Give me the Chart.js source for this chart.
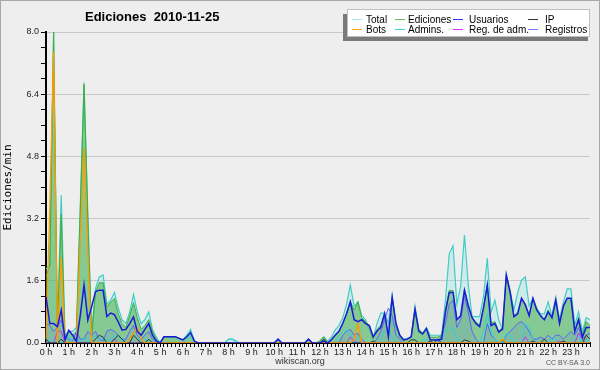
<!DOCTYPE html>
<html>
<head>
<meta charset="utf-8">
<script src="https://cdn.jsdelivr.net/npm/chart.js@4.4.1/dist/chart.umd.min.js"></script>
<style>
  html, body { margin: 0; padding: 0; background: #eeeeee; }
  canvas { display: block; }
</style>
</head>
<body>
<canvas id="myChart" width="600" height="370"></canvas>
<script>
// hour labels on the x axis, one slot every 10 minutes
var hourLabels = ['0 h', '1 h', '2 h', '3 h', '4 h', '5 h', '6 h', '7 h', '8 h', '9 h', '10 h', '11 h',
    '12 h', '13 h', '14 h', '15 h', '16 h', '17 h', '18 h', '19 h', '20 h', '21 h', '22 h', '23 h'];
var yTicks = [0, 1.6, 3.2, 4.8, 6.4, 8.0];

// values in edits per minute (12 slots = 2 hours per row)
var total = [
    1.9, 2.0, 8.0, 0.4, 3.8, 0.2, 0.3, 0.3, 0.4, 3.5, 6.7, 3.3,
    0.3, 1.4, 1.7, 1.75, 1.0, 1.1, 1.3, 0.9, 0.6, 0.5, 0.8, 1.25,
    0.8, 0.5, 0.6, 0.8, 0.35, 0.15, 0, 0.16, 0.16, 0.16, 0.16, 0.12,
    0.08, 0.2, 0.35, 0.05, 0, 0, 0, 0, 0, 0, 0, 0,
    0.1, 0.1, 0.05, 0, 0, 0, 0, 0, 0, 0, 0, 0,
    0, 0.1, 0, 0, 0, 0, 0, 0, 0, 0.1, 0, 0,
    0.05, 0.16, 0.05, 0.15, 0.33, 0.45, 0.65, 1.0, 1.49, 0.95, 1.06, 0.7,
    0.6, 0.35, 0.1, 0.5, 0.77, 0.77, 0.5, 1.19, 0.4, 0.16, 0.08, 0.12,
    0.16, 0.95, 0.35, 0.25, 0.4, 0.2, 0.2, 0.2, 0.2, 1.1, 2.3, 2.5,
    1.0, 1.45, 2.78, 1.5, 0.68, 0.68, 0.68, 1.2, 2.18, 0.8, 1.1, 0.6,
    0.35, 1.75, 1.35, 0.85, 1.3, 1.62, 1.7, 0.95, 1.15, 0.9, 0.75, 0.75,
    1.06, 0.7, 1.18, 0.6, 1.05, 1.39, 1.39, 0.45, 0.8, 0.3, 0.65, 0.6
];
var ediciones = [
    1.7, 2.0, 8.0, 0.25, 3.3, 0.1, 0.3, 0.2, 0.3, 3.4, 6.65, 3.2,
    0.15, 1.3, 1.55, 1.55, 0.93, 1.05, 1.15, 0.75, 0.5, 0.4, 0.7, 1.04,
    0.65, 0.35, 0.45, 0.6, 0.3, 0.1, 0, 0.16, 0.16, 0.16, 0.16, 0.12,
    0.08, 0.16, 0.27, 0.05, 0, 0, 0, 0, 0, 0, 0, 0,
    0, 0, 0, 0, 0, 0, 0, 0, 0, 0, 0, 0,
    0, 0.1, 0, 0, 0, 0, 0, 0, 0, 0.1, 0, 0,
    0.05, 0.16, 0, 0.08, 0.2, 0.3, 0.5, 0.75, 1.06, 0.85, 1.06, 0.65,
    0.55, 0.45, 0.16, 0.35, 0.45, 0.76, 0.2, 1.18, 0.5, 0.2, 0.1, 0.1,
    0.16, 0.9, 0.35, 0.25, 0.38, 0.15, 0.15, 0.15, 0.2, 0.85, 1.35, 1.35,
    0.6, 0.7, 1.38, 1.0, 0.65, 0.55, 0.45, 0.9, 1.49, 0.5, 0.55, 0.3,
    0.4, 1.75, 1.35, 0.7, 0.8, 1.15, 1.0, 0.72, 1.15, 0.85, 0.72, 0.6,
    0.85, 0.65, 1.1, 0.5, 0.95, 1.15, 1.15, 0.3, 0.65, 0.2, 0.55, 0.45
];
var usuarios = [
    1.19, 0.5, 0.5, 0.42, 0.85, 0.08, 0.33, 0.2, 0.04, 0.7, 1.49, 0.59,
    0.93, 1.32, 1.36, 1.36, 0.68, 0.77, 0.73, 0.54, 0.33, 0.35, 0.5, 0.67,
    0.3, 0.2, 0.35, 0.5, 0.2, 0.05, 0, 0.16, 0.16, 0.16, 0.16, 0.12,
    0.08, 0.16, 0.27, 0.05, 0, 0, 0, 0, 0, 0, 0, 0,
    0, 0, 0, 0, 0, 0, 0, 0, 0, 0, 0, 0,
    0, 0.1, 0, 0, 0, 0, 0, 0, 0, 0.1, 0, 0,
    0, 0.05, 0, 0.08, 0.2, 0.3, 0.5, 0.75, 1.06, 0.6, 0.55, 0.6,
    0.5, 0.45, 0.16, 0.3, 0.4, 0.76, 0.16, 1.18, 0.5, 0.2, 0.08, 0.1,
    0.16, 0.86, 0.3, 0.23, 0.37, 0.08, 0.08, 0.08, 0.1, 0.8, 1.3, 1.3,
    0.6, 0.7, 1.36, 0.95, 0.65, 0.5, 0.42, 0.9, 1.49, 0.45, 0.5, 0.28,
    0.36, 1.75, 1.3, 0.68, 0.75, 1.15, 0.98, 0.7, 1.15, 0.85, 0.7, 0.6,
    0.8, 0.65, 1.1, 0.5, 0.95, 1.15, 1.15, 0.3, 0.6, 0.15, 0.4, 0.4
];
var ip = [
    0.1, 0, 0, 0, 0.1, 0, 0, 0, 0, 0, 0, 0,
    0, 0.1, 0.2, 0.15, 0, 0, 0.1, 0.2, 0.1, 0, 0, 0.2,
    0.1, 0, 0, 0.1, 0, 0, 0, 0, 0, 0, 0, 0,
    0, 0, 0, 0, 0, 0, 0, 0, 0, 0, 0, 0,
    0, 0, 0, 0, 0, 0, 0, 0, 0, 0, 0, 0,
    0, 0, 0, 0, 0, 0, 0, 0, 0, 0, 0, 0,
    0, 0.1, 0, 0, 0, 0, 0, 0, 0, 0, 0, 0,
    0, 0, 0.05, 0, 0, 0, 0, 0, 0, 0, 0, 0,
    0.08, 0.08, 0, 0, 0, 0.05, 0, 0.1, 0, 0, 0, 0,
    0, 0, 0.08, 0.05, 0, 0, 0, 0, 0, 0, 0, 0,
    0.08, 0, 0, 0, 0, 0, 0, 0, 0.05, 0, 0, 0.1,
    0, 0, 0, 0, 0.05, 0, 0, 0, 0, 0, 0.2, 0.1
];
var bots = [
    0.1, 3.5, 7.5, 0, 2.2, 0, 0, 0, 0, 2.6, 5.0, 2.3,
    0, 0, 0, 0, 0, 0, 0, 0, 0, 0, 0.1, 0.25,
    0.4, 0.1, 0, 0, 0, 0, 0, 0, 0, 0, 0, 0,
    0, 0, 0, 0, 0, 0, 0, 0, 0, 0, 0, 0,
    0, 0, 0, 0, 0, 0, 0, 0, 0, 0, 0, 0,
    0, 0, 0, 0, 0, 0, 0, 0, 0, 0, 0, 0,
    0, 0, 0, 0, 0, 0, 0, 0, 0, 0.1, 0.5, 0,
    0, 0, 0, 0, 0, 0, 0, 0, 0, 0, 0, 0,
    0, 0, 0, 0, 0, 0, 0, 0, 0, 0, 0, 0,
    0, 0, 0, 0, 0, 0, 0, 0, 0, 0, 0, 0,
    0.1, 0, 0, 0, 0, 0, 0, 0, 0, 0, 0, 0,
    0, 0, 0, 0, 0, 0, 0, 0, 0, 0, 0, 0
];
var admins = [
    0.1, 0.05, 0, 0.1, 0, 0.05, 0.2, 0, 0.1, 0.05, 0.15, 0,
    0.1, 0.2, 0.1, 0.15, 0.1, 0.05, 0.2, 0.15, 0.1, 0.05, 0.1, 0.2,
    0.1, 0.05, 0.1, 0.05, 0, 0, 0, 0, 0, 0, 0, 0,
    0, 0.1, 0.2, 0, 0, 0, 0, 0, 0, 0, 0, 0,
    0.1, 0.1, 0, 0, 0, 0, 0, 0, 0, 0, 0, 0,
    0, 0, 0, 0, 0, 0, 0, 0, 0, 0, 0, 0,
    0, 0, 0, 0, 0, 0.2, 0.3, 0.35, 0.2, 0, 0, 0,
    0, 0, 0, 0, 0.1, 0.3, 0.35, 0.15, 0, 0, 0, 0,
    0, 0, 0, 0.05, 0.1, 0, 0, 0, 0.1, 0.3, 0.4, 0.35,
    0.1, 0, 0, 0, 0, 0, 0, 0.3, 0.75, 0.3, 0.1, 0,
    0, 0.25, 0.2, 0, 0, 0, 0.5, 0.4, 0.1, 0, 0, 0,
    0, 0.15, 0.1, 0, 0, 0, 0, 0.1, 0.2, 0, 0.1, 0
];
var regAdm = [
    0, 0, 0, 0.3, 0.3, 0, 0, 0, 0, 0, 0, 0,
    0, 0, 0, 0, 0, 0, 0.1, 0, 0, 0, 0, 0,
    0, 0, 0, 0, 0, 0, 0, 0, 0, 0, 0, 0,
    0, 0, 0, 0, 0, 0, 0, 0, 0, 0, 0, 0,
    0, 0, 0, 0, 0, 0, 0, 0, 0, 0, 0, 0,
    0, 0, 0, 0, 0, 0, 0, 0, 0, 0, 0, 0,
    0, 0, 0, 0, 0, 0, 0, 0, 0.16, 0.05, 0, 0,
    0, 0, 0, 0, 0, 0, 0, 0, 0, 0, 0, 0,
    0, 0, 0, 0, 0, 0, 0, 0, 0, 0, 0, 0,
    0, 0, 0, 0, 0, 0, 0, 0, 0, 0, 0, 0,
    0.1, 0, 0, 0, 0, 0, 0.16, 0, 0, 0, 0, 0,
    0, 0, 0, 0.05, 0, 0, 0, 0, 0.25, 0.1, 0, 0
];
var registros = [
    0.5, 0.45, 0.3, 0.4, 0.6, 0.2, 0.1, 0.05, 0.3, 0.1, 0.1, 0.3,
    0.2, 0.3, 0.1, 0.05, 0.3, 0.35, 0.3, 0.2, 0.1, 0.1, 0.3, 0.45,
    0.2, 0.1, 0.2, 0.3, 0.1, 0, 0, 0, 0, 0, 0, 0,
    0, 0, 0, 0, 0, 0, 0, 0, 0, 0, 0, 0,
    0, 0, 0, 0, 0, 0, 0, 0, 0, 0, 0, 0,
    0, 0, 0, 0, 0, 0, 0, 0, 0, 0, 0, 0,
    0, 0, 0, 0, 0, 0, 0.2, 0.3, 0.35, 0.2, 0.25, 0.1,
    0, 0, 0, 0.1, 0.3, 0.6, 0.9, 0.7, 0.2, 0.1, 0, 0,
    0, 0, 0, 0, 0, 0, 0, 0, 0.2, 0.5, 1.0, 1.1,
    0.4, 0.6, 1.2, 0.8, 0.3, 0.1, 0, 0, 0.5, 0.2, 0.1, 0,
    0, 0.2, 0.3, 0.4, 0.5, 0.55, 0.45, 0.3, 0.1, 0.1, 0.15, 0.1,
    0.2, 0.1, 0.2, 0.2, 0.1, 0.2, 0.3, 0.2, 0.4, 0.1, 0.2, 0.25
];

// one category per 10 minutes
var slots = [];
for (var h = 0; h < 24; h++) {
    for (var m = 0; m < 60; m += 10) {
        slots.push(h + ':' + (m < 10 ? '0' + m : m));
    }
}

function isMajor(v) {
    return yTicks.some(function (t) { return Math.abs(t - v) < 1e-6; });
}

// legend order as in the picture (two rows of four)
var legendOrder = ['Total', 'Ediciones', 'Usuarios', 'IP', 'Bots', 'Admins.', 'Reg. de adm.', 'Registros'];
var legendColors = {
    'Total': '#a6e8e8', 'Ediciones': '#66c466', 'Usuarios': '#3333ff', 'IP': '#333333',
    'Bots': '#ffa020', 'Admins.': '#33d4e4', 'Reg. de adm.': '#dd33ff', 'Registros': '#7777ff'
};

var decor = {
    id: 'decor',
    beforeDraw: function (chart) {
        var c = chart.ctx;
        c.save();
        c.fillStyle = '#eeeeee';
        c.fillRect(0, 0, chart.width, chart.height);
        c.strokeStyle = '#a8a8a8';
        c.lineWidth = 1;
        c.strokeRect(0.5, 0.5, chart.width - 1, chart.height - 1);
        c.restore();
    },
    afterDraw: function (chart) {
        var c = chart.ctx;
        c.save();
        // title
        c.fillStyle = '#000';
        c.font = 'bold 13px "Liberation Sans"';
        c.textBaseline = 'middle';
        c.textAlign = 'left';
        c.fillText('Ediciones  2010-11-25', 85, 17);

        // legend box with shadow
        c.fillStyle = '#7a7a7a';
        c.fillRect(343, 14, 245, 27);
        c.fillStyle = '#ffffff';
        c.fillRect(347, 9, 243, 28);
        c.strokeStyle = '#c0c0c0';
        c.strokeRect(347.5, 9.5, 242, 27);
        var lineX = [352, 395, 453, 528];
        var textX = [366, 408, 469, 545];
        var rowY = [19, 29];
        c.font = '10px "Liberation Sans"';
        c.lineWidth = 1;
        legendOrder.forEach(function (name, k) {
            var col = k % 4, row = Math.floor(k / 4);
            c.strokeStyle = legendColors[name];
            c.beginPath();
            c.moveTo(lineX[col], rowY[row] + 0.5);
            c.lineTo(lineX[col] + 10, rowY[row] + 0.5);
            c.stroke();
            c.fillStyle = '#000';
            c.fillText(name, textX[col], rowY[row] + 1);
        });

        // footer
        c.fillStyle = '#333';
        c.font = '9px "Liberation Sans"';
        c.textAlign = 'center';
        c.fillText('wikiscan.org', 300, 362);
        c.textAlign = 'right';
        c.font = '7px "Liberation Sans"';
        c.fillStyle = '#555';
        c.fillText('CC BY-SA 3.0', 590, 363);
        c.restore();
    }
};

var ctx = document.getElementById('myChart');
var myChart = new Chart(ctx, {
    type: 'line',
    data: {
        labels: slots,
        datasets: [
            {label: 'Usuarios', data: usuarios, borderColor: '#1a1ad8', borderWidth: 1.5, fill: false},
            {label: 'Bots', data: bots, borderColor: '#ff9a00', borderWidth: 1.3, fill: false},
            {label: 'IP', data: ip, borderColor: '#333333', fill: false},
            {label: 'Reg. de adm.', data: regAdm, borderColor: '#d030f0', fill: false},
            {label: 'Admins.', data: admins, borderColor: '#30d0e0', fill: false},
            {label: 'Registros', data: registros, borderColor: '#6060ff', fill: 'origin',
                backgroundColor: 'rgba(90,90,255,0.12)'},
            {label: 'Ediciones', data: ediciones, borderColor: '#3fae3f', fill: 'origin',
                backgroundColor: 'rgba(60,170,60,0.5)'},
            {label: 'Total', data: total, borderColor: '#40cdc4', borderWidth: 1.2, fill: 'origin',
                backgroundColor: 'rgba(150,225,225,0.35)'}
        ]
    },
    options: {
        responsive: false,
        animation: false,
        devicePixelRatio: 1,
        layout: {padding: {top: 32, right: 10, left: 2, bottom: 0}},
        elements: {
            point: {radius: 0},
            line: {tension: 0, borderWidth: 1}
        },
        plugins: {
            legend: {display: false},
            tooltip: {enabled: false}
        },
        scales: {
            x: {
                grid: {drawOnChartArea: false, tickLength: 4, tickColor: '#000'},
                border: {color: '#000', width: 2},
                ticks: {
                    autoSkip: false,
                    maxRotation: 0,
                    padding: 0,
                    color: '#222',
                    font: {family: 'Liberation Sans', size: 9},
                    callback: function (value, index) {
                        return index % 6 === 0 ? hourLabels[index / 6] : '';
                    }
                },
                afterFit: function (scale) { scale.height = 27; }
            },
            y: {
                min: 0,
                max: 8,
                grid: {
                    tickLength: 5,
                    tickColor: '#000',
                    color: function (c) {
                        return isMajor(c.tick.value) && c.tick.value > 0 ? '#c8c8c8' : 'rgba(0,0,0,0)';
                    }
                },
                border: {color: '#000', width: 2},
                ticks: {
                    stepSize: 0.4,
                    maxTicksLimit: 30,
                    padding: 2,
                    color: '#222',
                    font: {family: 'Liberation Sans', size: 9},
                    callback: function (value) {
                        return isMajor(value) ? value.toFixed(1) : '';
                    }
                },
                title: {
                    display: true,
                    text: 'Ediciones/min',
                    color: '#000',
                    padding: 0,
                    font: {family: 'DejaVu Sans Mono', size: 11}
                },
                afterFit: function (scale) { scale.width = 44; }
            }
        }
    },
    plugins: [decor]
});
</script>
</body>
</html>
